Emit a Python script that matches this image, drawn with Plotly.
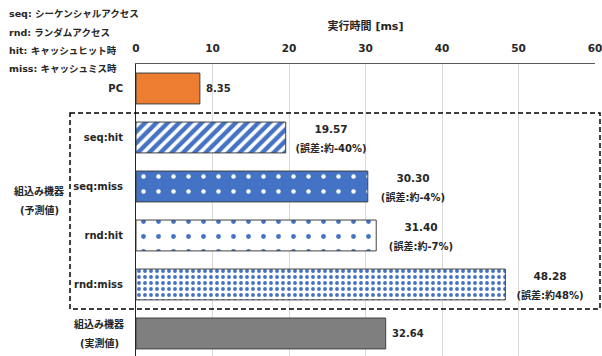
import plotly.graph_objects as go

categories = ["PC", "seq:hit", "seq:miss", "rnd:hit", "rnd:miss", "組込み機器(実測値)"]
tick_labels = ["PC", "seq:hit", "seq:miss", "rnd:hit", "rnd:miss", ""]
measured_label = ["組込み機器", "(実測値)"]
values = [8.35, 19.57, 30.30, 31.40, 48.28, 32.64]
error_labels = [None, "(誤差:約-40%)", "(誤差:約-4%)", "(誤差:約-7%)", "(誤差:約48%)", None]
legend_lines = ["seq: シーケンシャルアクセス", "rnd: ランダムアクセス", "hit: キャッシュヒット時", "miss: キャッシュミス時"]
group_label = ["組込み機器", "(予測値)"]
x_ticks = [0, 10, 20, 30, 40, 50, 60]
axis_title = "実行時間 [ms]"

FONT = "DejaVu Sans, Noto Sans CJK JP"
TXT = "#262626"
BLUE = "#4472C4"
OUTLINE = "#404040"

styles = [
    dict(color="#ED7D31"),
    dict(color="white", pattern=dict(shape="/", fgcolor=BLUE, bgcolor="white", size=8, solidity=0.55, fgopacity=1)),
    dict(color=BLUE, pattern=dict(shape=".", fgcolor="white", bgcolor=BLUE, size=15, solidity=0.07, fgopacity=1)),
    dict(color="white", pattern=dict(shape=".", fgcolor=BLUE, bgcolor="white", size=15, solidity=0.08, fgopacity=1)),
    dict(color="white", pattern=dict(shape=".", fgcolor=BLUE, bgcolor="white", size=6, solidity=0.32, fgopacity=1)),
    dict(color="#7F7F7F"),
]

def bold(size):
    return dict(family=FONT, size=size, color=TXT, weight="bold")

fig = go.Figure()
for cat, val, st in zip(categories, values, styles):
    fig.add_trace(go.Bar(
        x=[val], y=[cat], orientation="h", width=0.63,
        marker=dict(**st, line=dict(color=OUTLINE, width=1)),
        showlegend=False, hoverinfo="skip",
    ))

annotations = []
for cat, val, err in zip(categories, values, error_labels):
    if err is None:
        annotations.append(dict(x=val, y=cat, xref="x", yref="y", text=f"{val:.2f}",
                                xanchor="left", yanchor="middle", xshift=4, showarrow=False,
                                font=bold(10)))
    else:
        annotations.append(dict(x=val, y=cat, xref="x", yref="y", text=f"{val:.2f}",
                                xanchor="left", yanchor="middle", xshift=-1, yshift=8, width=88,
                                align="center", showarrow=False, font=bold(10.5)))
        annotations.append(dict(x=val, y=cat, xref="x", yref="y", text=err,
                                xanchor="left", yanchor="middle", xshift=-1, yshift=-11, width=88,
                                align="center", showarrow=False, font=bold(10)))

PLOT_TOP, PLOT_H, PLOT_L, PLOT_W = 64, 292, 136, 459
legend_y = [14, 32, 50, 69]
for txt, py in zip(legend_lines, legend_y):
    annotations.append(dict(x=(7 - PLOT_L) / PLOT_W, y=1 + (PLOT_TOP - py) / PLOT_H,
                            xref="paper", yref="paper", text=txt, xanchor="left", yanchor="middle",
                            showarrow=False, font=bold(9.5)))

for txt, dy in zip(group_label, [-0.19, 0.19]):
    annotations.append(dict(x=(39 - PLOT_L) / PLOT_W, y=2.28 + dy, xref="paper", yref="y", text=txt,
                            xanchor="center", yanchor="middle", showarrow=False, font=bold(10)))

for txt, dy in zip(measured_label, [-0.2, 0.2]):
    annotations.append(dict(x=(99 - PLOT_L) / PLOT_W, y=categories[-1], yshift=-dy * 49,
                            xref="paper", yref="y", text=txt,
                            xanchor="center", yanchor="middle", showarrow=False, font=bold(10)))

fig.add_shape(type="rect", xref="paper", yref="y",
              x0=(70 - PLOT_L) / PLOT_W, x1=(600 - PLOT_L) / PLOT_W, y0=0.5, y1=4.5,
              line=dict(color="#000000", width=1.5, dash="5px,3px"), fillcolor="rgba(0,0,0,0)",
              layer="above")

fig.update_layout(
    width=602, height=356,
    margin=dict(l=PLOT_L, r=602 - PLOT_L - PLOT_W, t=PLOT_TOP, b=0),
    paper_bgcolor="white", plot_bgcolor="white",
    barmode="overlay",
    annotations=annotations,
    xaxis=dict(side="top", range=[0, 60], tickvals=x_ticks,
               showgrid=True, gridcolor="#D9D9D9", gridwidth=1,
               showline=True, linecolor="#595959", linewidth=1, mirror=False,
               zeroline=False, ticks="", ticklabelstandoff=7, ticklabeloverflow="allow",
               tickfont=bold(10.5),
               title=dict(text=axis_title, standoff=8, font=bold(11))),
    yaxis=dict(type="category", categoryorder="array", categoryarray=categories,
               tickvals=categories, ticktext=tick_labels,
               range=[5.46, -0.5], showgrid=False, showline=True, linecolor="#262626",
               linewidth=1, ticks="", ticklabelstandoff=10,
               tickfont=bold(10)),
)

fig.write_html("out.html")
